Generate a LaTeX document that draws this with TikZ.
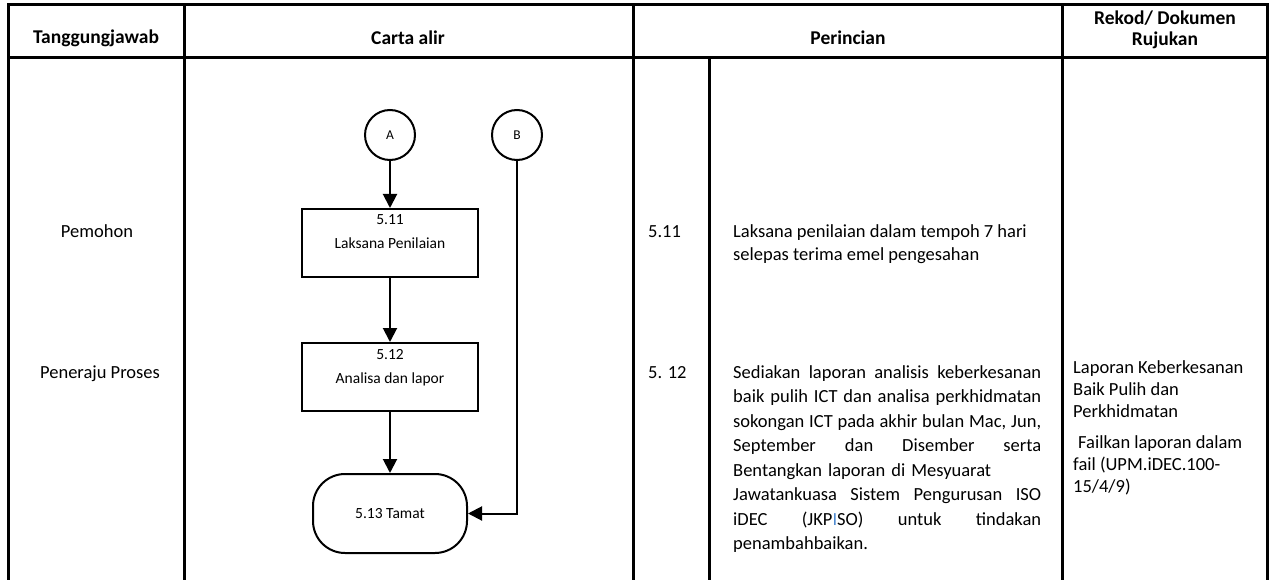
\documentclass[tikz,border=0pt]{standalone}
\usepackage{fontspec}
\setmainfont{Carlito}
\usetikzlibrary{arrows.meta}
\begin{document}
\begin{tikzpicture}[x=1pt,y=-1pt,
  grid/.style={line width=3pt},
  flow/.style={line width=2pt},
  arr/.style={flow,-{Triangle[length=14pt,width=14pt]}},
  proc/.style={draw,line width=2pt,minimum width=176pt,minimum height=68pt,inner sep=0},
  conn/.style={draw,circle,line width=2pt,minimum size=50pt,inner sep=0,font=\fontsize{13.5}{15}\selectfont},
  term/.style={draw,line width=2pt,rounded corners=32pt,minimum width=154pt,minimum height=79pt,inner sep=0,font=\fontsize{15.5}{18}\selectfont},
  hd/.style={font=\fontsize{19.5}{21}\selectfont\bfseries,inner sep=0,align=center},
  tx/.style={font=\fontsize{18.5}{22}\selectfont,inner sep=0,anchor=base west},
  ft/.style={font=\fontsize{15.5}{18}\selectfont,inner sep=0}]
\useasboundingbox (0,0) rectangle (1269,580);
% table grid
\draw[grid] (8,580) -- (8,5) -- (1267,5) -- (1267,580);
\draw[grid] (8,58) -- (1267,58);
\draw[grid] (184,5) -- (184,580);
\draw[grid] (633,5) -- (633,580);
\draw[grid] (1062,5) -- (1062,580);
\draw[grid] (709,58) -- (709,580);
% headers
\node[hd] (h1) at (96,38) {Tanggungjawab};
\node[hd] (h2) at (408,38) {Carta alir};
\node[hd] (h3) at (848,38) {Perincian};
\node[hd] (h4) at (1165,30) {Rekod/ Dokumen\\Rujukan};
% left column
\node[tx,anchor=base] (r1) at (97,237) {Pemohon};
\node[tx,anchor=base] (r2) at (100,378) {Peneraju Proses};
% flowchart
\node[conn] (A) at (390,135) {A};
\node[conn] (B) at (517,135) {B};
\node[proc] (p1) at (390,243) {};
\node[ft] (p1n) at ([yshift=-12pt]p1.north) {5.11};
\node[ft] (p1t) at ([yshift=-35pt]p1.north) {Laksana Penilaian};
\node[proc] (p2) at (390,377) {};
\node[ft] (p2n) at ([yshift=-13pt]p2.north) {5.12};
\node[ft] (p2t) at ([yshift=-37pt]p2.north) {Analisa dan lapor};
\node[term] (t) at (390,513.5) {5.13 Tamat};
\coordinate (bc) at (B.south |- t.east);
\draw[arr] (A) -- (p1);
\draw[arr] (p1) -- (p2);
\draw[arr] (p2) -- (t);
\draw[arr] (B) -- (bc) -- (t.east);
% perincian
\node[tx] (n1) at (648,237) {5.11};
\node[tx] (d1a) at (733,237) {Laksana penilaian dalam tempoh 7 hari};
\node[tx] (d1b) at (733,261) {selepas terima emel pengesahan};
\node[tx] (n2) at (648,378) {5. 12};
\node[tx] (d2a) at (733,378.0) {\makebox[308pt][s]{Sediakan laporan analisis keberkesanan}};
\node[tx] (d2b) at (733,402.5) {\makebox[308pt][s]{baik pulih ICT dan analisa perkhidmatan}};
\node[tx] (d2c) at (733,427.0) {\makebox[308pt][s]{sokongan ICT pada akhir bulan Mac, Jun,}};
\node[tx] (d2d) at (733,451.5) {\makebox[308pt][s]{September dan Disember serta}};
\node[tx] (d2e) at (733,476.0) {\makebox[258pt][s]{Bentangkan laporan di Mesyuarat}};
\node[tx] (d2f) at (733,500.5) {\makebox[308pt][s]{Jawatankuasa Sistem Pengurusan ISO}};
\node[tx] (d2g) at (733,525.0) {\makebox[308pt][s]{iDEC (JKP{\color[RGB]{80,140,210}I}SO) untuk tindakan}};
\node[tx] (d2h) at (733,549.5) {penambahbaikan.};
% rekod
\node[tx] (k1) at (1073,373) {Laporan Keberkesanan};
\node[tx] (k2) at (1073,395) {Baik Pulih dan};
\node[tx] (k3) at (1073,417) {Perkhidmatan};
\node[tx] (k4) at (1078,448) {Failkan laporan dalam};
\node[tx] (k5) at (1073,470) {fail (UPM.iDEC.100-};
\node[tx] (k6) at (1073,492) {15/4/9)};
\end{tikzpicture}
\end{document}
